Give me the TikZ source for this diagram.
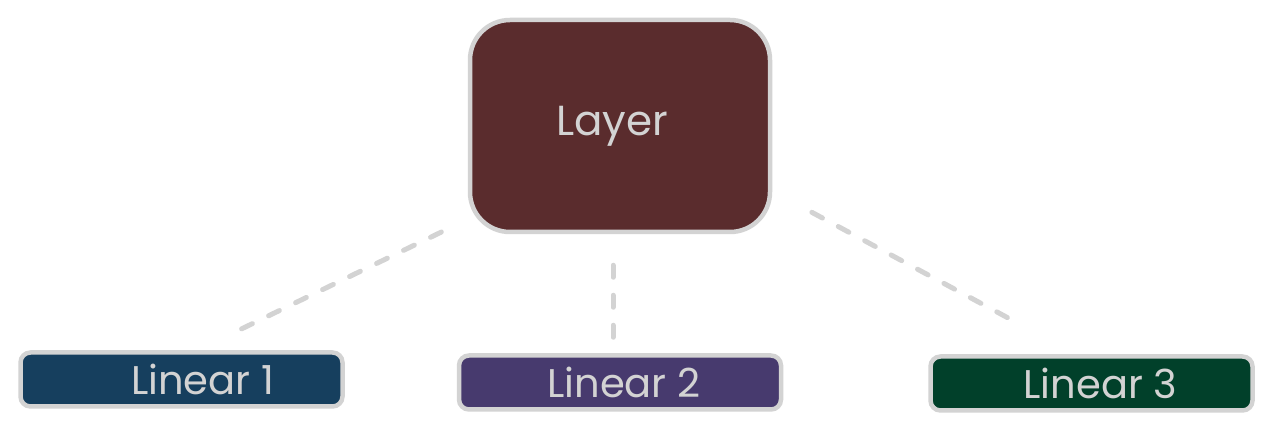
\documentclass[tikz,border=0pt]{standalone}
\usepackage{fontspec}
\setmainfont{Poppins}
\usetikzlibrary{positioning}

\definecolor{lightline}{HTML}{D3D3D3}
\definecolor{layerred}{HTML}{5A2C2D}
\definecolor{linblue}{HTML}{163F5E}
\definecolor{linpurple}{HTML}{473A6E}
\definecolor{lingreen}{HTML}{01402A}

\begin{document}
\begin{tikzpicture}[x=0.5pt,y=-0.5pt,node font=\fontsize{20}{24}\selectfont]
	\tikzstyle{block}=[draw=lightline,line width=2.25pt,rounded corners=5pt,text=lightline,minimum width=161pt,minimum height=27pt,inner sep=0pt]
	\tikzstyle{link}=[draw=lightline,line width=2.5pt,line cap=round,dash pattern=on 6pt off 9pt]
	
	\useasboundingbox (0,0) rectangle (1270,427);
	
	\node[block,fill=layerred,minimum width=150pt,minimum height=106pt,rounded corners=20pt,font=\fontsize{21}{25}\selectfont] (layer) at (620,126) {\hspace*{-8pt}Layer};
	\node[block,fill=linpurple] (lin2) [below=59.5pt of layer]  {\hspace*{4pt}Linear 2};
	\node[block,fill=linblue]   (lin1) [left=56pt of lin2,yshift=1.5pt]  {\hspace*{21pt}Linear 1};
	\node[block,fill=lingreen]  (lin3) [right=72.5pt of lin2,yshift=-0.5pt] {\hspace*{9pt}Linear 3};
	
	\path[link]
	([xshift=8pt]lin1.north) edge [shorten <=24.5pt,shorten >=10pt] ([yshift=7.5pt]layer.south west)
	([xshift=-3.5pt]lin2.north) edge [shorten <=8pt,shorten >=9pt] ([xshift=-3.5pt]layer.south)
	([yshift=-32.5pt]layer.east) edge [shorten <=22.5pt,shorten >=30.5pt] ([xshift=-8pt]lin3.north);
\end{tikzpicture}
\end{document}
